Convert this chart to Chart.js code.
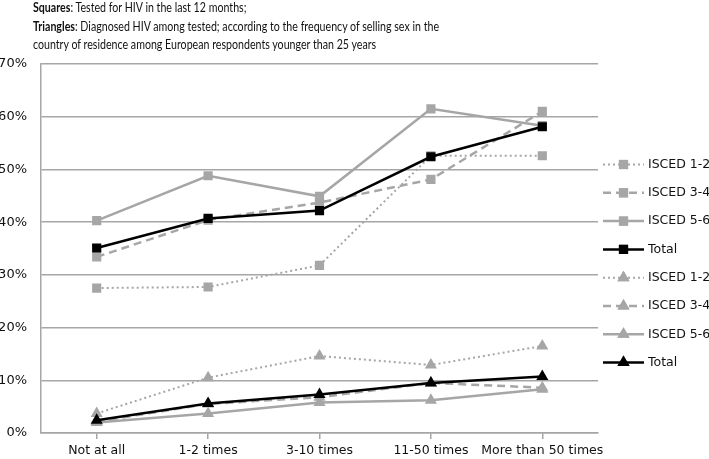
<!DOCTYPE html>
<html>
<head>
<meta charset="utf-8">
<script src="https://cdn.jsdelivr.net/npm/chart.js@4.4.1/dist/chart.umd.min.js"></script>
<style>
  html, body { margin: 0; padding: 0; background: #fff; }
  #wrap { position: relative; width: 709px; height: 459px; }
  #title {
    position: absolute; left: 33px; top: -2px;
    font-family: Lato, "Liberation Sans", sans-serif;
    font-size: 14px; line-height: 18.5px; color: #111;
    transform-origin: 0 0;
    white-space: nowrap; z-index: 2;
  }
  #title div { display: block; }
  canvas { position: absolute; left: 0; top: 0; }
</style>
</head>
<body>
<div id="wrap">
  <canvas id="chart" width="709" height="459"></canvas>
  <div id="title">
    <div><b>Squares</b>: Tested for HIV in the last 12 months;</div>
    <div id="tline"><b>Triangles</b>: Diagnosed HIV among tested; according to the frequency of selling sex in the</div>
    <div>country of residence among European respondents younger than 25 years</div>
  </div>
</div>
<script>
// categories and values (fractions)
const categories = ['Not at all', '1-2 times', '3-10 times', '11-50 times', 'More than 50 times'];

// squares: tested for HIV in the last 12 months
const testedIsced12 = [0.275, 0.277, 0.318, 0.526, 0.526];
const testedIsced34 = [0.334, 0.404, 0.437, 0.481, 0.610];
const testedIsced56 = [0.403, 0.488, 0.449, 0.615, 0.583];
const testedTotal   = [0.351, 0.407, 0.422, 0.524, 0.581];

// triangles: diagnosed HIV among tested
const diagIsced12 = [0.037, 0.105, 0.146, 0.129, 0.165];
const diagIsced34 = [0.022, 0.055, 0.068, 0.095, 0.086];
const diagIsced56 = [0.020, 0.037, 0.058, 0.062, 0.083];
const diagTotal   = [0.024, 0.056, 0.073, 0.095, 0.107];

const yTicks = [0, 0.1, 0.2, 0.3, 0.4, 0.5, 0.6, 0.7];

const GRAY = '#a6a6a6';
const BLACK = '#000000';

// squeeze the title so the long line is as wide as in the original (narrow font)
let tline = document.getElementById('tline');
let range = document.createRange();
range.selectNodeContents(tline);
let tw = range.getBoundingClientRect().width;
document.getElementById('title').style.transform = 'scaleX(' + (406 / tw) + ')';

function makeSet(label, data, color, dash, shape, width, order) {
    let tri = shape === 'triangle';
    return {
        label: label,
        data: data,
        borderColor: color,
        backgroundColor: color,
        borderWidth: width,
        borderDash: dash,
        pointStyle: shape,
        pointRadius: tri ? 7 : 6.5,
        pointBorderWidth: 0,
        pointHoverRadius: tri ? 7 : 6.5,
        tension: 0,
        order: order
    };
}

const datasets = [
    makeSet('ISCED 1-2', testedIsced12, GRAY, [2, 3], 'rect', 2, 2),
    makeSet('ISCED 3-4', testedIsced34, GRAY, [8, 5], 'rect', 2.5, 2),
    makeSet('ISCED 5-6', testedIsced56, GRAY, [], 'rect', 2.5, 2),
    makeSet('Total', testedTotal, BLACK, [], 'rect', 2.5, 0),
    makeSet('ISCED 1-2', diagIsced12, GRAY, [2, 3], 'triangle', 2, 2),
    makeSet('ISCED 3-4', diagIsced34, GRAY, [8, 5], 'triangle', 2.5, 2),
    makeSet('ISCED 5-6', diagIsced56, GRAY, [], 'triangle', 2.5, 2),
    makeSet('Total', diagTotal, BLACK, [], 'triangle', 2.5, 0),
];

// legend drawn by hand on the right, line + marker + label
const sideLegend = {
    id: 'sideLegend',
    afterDraw(chart) {
        let ctx = chart.ctx;
        let x0 = 603, x1 = 644, top = 164.5, step = 28.3;
        ctx.save();
        chart.data.datasets.forEach(function(ds, i) {
            let y = top + i * step;
            ctx.strokeStyle = ds.borderColor;
            ctx.lineWidth = ds.borderWidth;
            ctx.setLineDash(ds.borderDash);
            ctx.beginPath();
            ctx.moveTo(x0, y);
            ctx.lineTo(x1, y);
            ctx.stroke();
            ctx.setLineDash([]);
            ctx.fillStyle = ds.backgroundColor;
            Chart.helpers.drawPoint(ctx, {
                pointStyle: ds.pointStyle,
                radius: ds.pointRadius,
                borderWidth: 0,
                rotation: 0
            }, (x0 + x1) / 2, y);
            ctx.fill();
            ctx.fillStyle = '#111';
            ctx.font = '12.5px "DejaVu Sans", sans-serif';
            ctx.textBaseline = 'middle';
            ctx.textAlign = 'left';
            ctx.fillText(ds.label, x1 + 4, y);
        });
        ctx.restore();
    }
};

new Chart(document.getElementById('chart'), {
    type: 'line',
    data: { labels: categories, datasets: datasets },
    options: {
        responsive: false,
        animation: false,
        events: [],
        layout: { padding: { top: 64, right: 111, left: 0, bottom: 0 } },
        plugins: {
            legend: { display: false },
            tooltip: { enabled: false }
        },
        scales: {
            x: {
                offset: true,
                afterFit: function(scale) { scale.height = 26; },
                grid: {
                    drawOnChartArea: false,
                    drawTicks: true,
                    tickLength: 6,
                    color: GRAY,
                    lineWidth: 1.5
                },
                border: { color: GRAY, width: 1.5 },
                ticks: {
                    color: '#111',
                    padding: 4,
                    maxRotation: 0,
                    autoSkip: false,
                    font: { family: '"DejaVu Sans", sans-serif', size: 12.5 }
                }
            },
            y: {
                min: 0,
                max: 0.7,
                afterFit: function(scale) { scale.width = 41; },
                afterBuildTicks: function(scale) {
                    scale.ticks = yTicks.map(function(v) { return { value: v }; });
                },
                grid: {
                    drawTicks: false,
                    color: GRAY,
                    lineWidth: 1.5
                },
                border: { color: GRAY, width: 1.5 },
                ticks: {
                    color: '#111',
                    padding: 14,
                    font: { family: '"DejaVu Sans", sans-serif', size: 13 },
                    callback: function(v) { return Math.round(v * 100) + '%'; }
                }
            }
        }
    },
    plugins: [sideLegend]
});
</script>
</body>
</html>
